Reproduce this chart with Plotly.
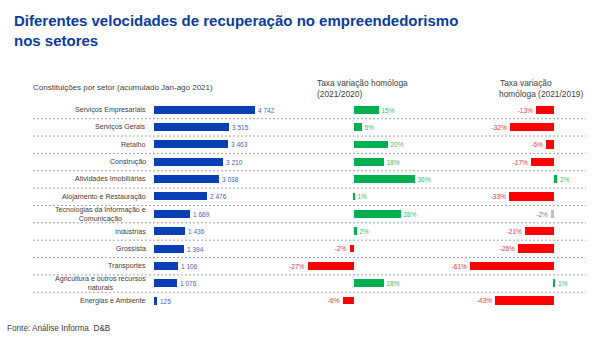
import plotly.graph_objects as go

W, H = 598, 338

sectors = [
    "Serviços Empresariais",
    "Serviços Gerais",
    "Retalho",
    "Construção",
    "Atividades Imobiliárias",
    "Alojamento e Restauração",
    "Tecnologias da Informação e<br>Comunicação",
    "Indústrias",
    "Grossista",
    "Transportes",
    "Agricultura e outros recursos<br>naturais",
    "Energias e Ambiente",
]
constituicoes = [4742, 3515, 3463, 3210, 3038, 2476, 1669, 1436, 1394, 1106, 1076, 125]
var_2021_2020 = [15, 5, 20, 18, 36, 1, 28, 2, -2, -27, 18, -6]
var_2021_2019 = [-13, -32, -6, -17, 2, -33, -2, -21, -26, -61, 1, -43]
# sectors whose 2021/2019 change is shown in neutral grey
neutral_2019 = ["Tecnologias da Informação e<br>Comunicação"]

BLUE = "#0A3FB4"
BLUE_TXT = "#3F63C8"
GREEN = "#00B050"
GREEN_TXT = "#3DB86A"
RED = "#FF0000"
RED_TXT = "#E8383D"
GREY = "#BFBFBF"
GREY_TXT = "#7F7F7F"
TITLE = "#0A3C9E"
TEXT = "#404040"
FONT = "Liberation Sans, Arial, sans-serif"


def px_x(x):
    return x / W


def px_y(y):
    return 1 - y / H


idx = list(range(len(sectors)))
row0, step = 110.0, 17.36
y_top = row0 - step / 2
y_bot = row0 + step * (len(sectors) - 0.5)


def fmt_int(v):
    return f"{v:,}".replace(",", " ")


def pct_colors(vals, neutral=None):
    bars, txt = [], []
    for s, v in zip(sectors, vals):
        if neutral and s in neutral:
            bars.append(GREY)
            txt.append(GREY_TXT)
        elif v >= 0:
            bars.append(GREEN)
            txt.append(GREEN_TXT)
        else:
            bars.append(RED)
            txt.append(RED_TXT)
    return bars, txt


fig = go.Figure()

fig.add_trace(go.Bar(
    x=constituicoes, y=idx, orientation="h", xaxis="x", yaxis="y",
    marker=dict(color=BLUE, line=dict(width=0)), width=0.46,
    text=[fmt_int(v) for v in constituicoes], textposition="outside",
    textfont=dict(size=6.5, color=BLUE_TXT, family=FONT),
    cliponaxis=False, constraintext="none", hoverinfo="skip",
))

c2, t2 = pct_colors(var_2021_2020)
fig.add_trace(go.Bar(
    x=var_2021_2020, y=idx, orientation="h", xaxis="x2", yaxis="y",
    marker=dict(color=c2, line=dict(width=0)), width=0.44,
    text=[f"{v}%" for v in var_2021_2020], textposition="outside",
    textfont=dict(size=6.5, color=t2, family=FONT),
    cliponaxis=False, constraintext="none", hoverinfo="skip",
))

c3, t3 = pct_colors(var_2021_2019, neutral_2019)
fig.add_trace(go.Bar(
    x=var_2021_2019, y=idx, orientation="h", xaxis="x3", yaxis="y",
    marker=dict(color=c3, line=dict(width=0)), width=0.48,
    text=[f"{v}%" for v in var_2021_2019], textposition="outside",
    textfont=dict(size=6.5, color=t3, family=FONT),
    cliponaxis=False, constraintext="none", hoverinfo="skip",
))

hidden = dict(visible=False, fixedrange=True)
fig.update_layout(
    width=W, height=H,
    margin=dict(l=0, r=0, t=0, b=0),
    paper_bgcolor="white", plot_bgcolor="rgba(0,0,0,0)",
    showlegend=False,
    font=dict(family=FONT, color=TEXT),
    xaxis=dict(domain=[px_x(154), px_x(261)], range=[0, 5000], anchor="y", **hidden),
    xaxis2=dict(domain=[px_x(293.5), px_x(429.5)], range=[-35, 45], anchor="y", **hidden),
    xaxis3=dict(domain=[px_x(458.1), px_x(588.3)], range=[-70, 25], anchor="y", **hidden),
    yaxis=dict(domain=[px_y(y_bot), px_y(y_top)], range=[len(sectors) - 0.5, -0.5], **hidden),
    bargap=0,
)

# dashed separators between sector rows
for i in range(len(sectors) - 1):
    fig.add_shape(type="line", xref="paper", yref="y",
                  x0=px_x(33), x1=px_x(586), y0=i + 0.5, y1=i + 0.5,
                  line=dict(color="#A6A6A6", width=1, dash="2px,2px"), layer="below")

# sector names
for i, s in enumerate(sectors):
    fig.add_annotation(x=px_x(148), y=i, xref="paper", yref="y",
                       text=s, showarrow=False, xanchor="right", yanchor="middle",
                       align="center", font=dict(size=7.1, color=TEXT, family=FONT))

# title
fig.add_annotation(x=px_x(12), y=px_y(10), xref="paper", yref="paper",
                   text="<b>Diferentes velocidades de recuperação no empreendedorismo<br>nos setores</b>",
                   showarrow=False, xanchor="left", yanchor="top", align="left",
                   font=dict(size=15, color=TITLE, family=FONT))

# column headings
heads = [
    (31, 87, "Constituições por setor (acumulado Jan-ago 2021)", 8.0),
    (315, 83, "Taxa variação homóloga", 8.4),
    (315, 94.5, "(2021/2020)", 8.4),
    (498, 83, "Taxa variação", 8.4),
    (497, 94.5, "homóloga (2021/2019)", 8.4),
]
for x, y, t, fs in heads:
    fig.add_annotation(x=px_x(x), y=px_y(y), xref="paper", yref="paper",
                       text=t, showarrow=False, xanchor="left", yanchor="middle",
                       font=dict(size=fs, color=TEXT, family=FONT))

# source
fig.add_annotation(x=px_x(5), y=px_y(328), xref="paper", yref="paper",
                   text="Fonte: Análise Informa  D&B", showarrow=False,
                   xanchor="left", yanchor="middle",
                   font=dict(size=8.2, color=TEXT, family=FONT))

fig.write_html("out.html", config={"displayModeBar": False})
